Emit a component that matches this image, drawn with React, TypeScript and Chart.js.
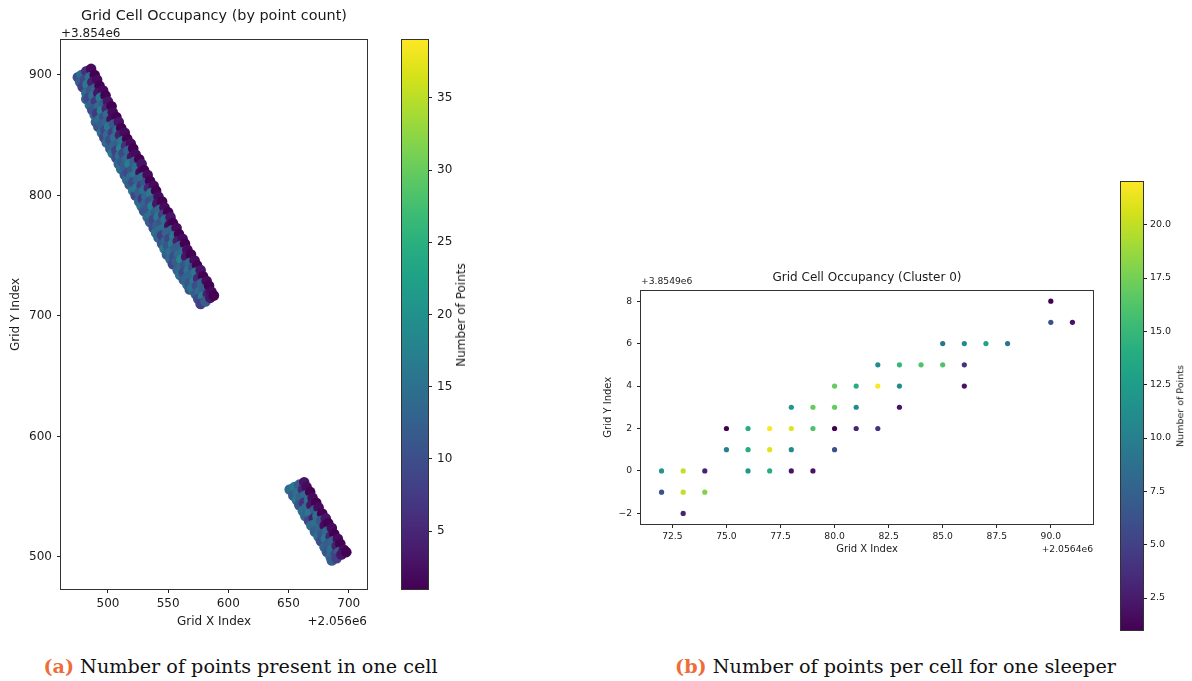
import React, { useEffect, useRef } from 'react';
import { Chart, registerables } from 'chart.js';

Chart.register(...registerables);

// ---------- Panel (a): grid cell occupancy by point count ----------
// values shown relative to the axis offsets (+2.056e6 on x, +3.854e6 on y)
const upperRowsX = [
  [475, 478, 482, 486], [477, 481, 485, 489], [479, 483, 487, 491], [482, 486, 490, 493],
  [484, 488, 492, 496], [487, 490, 494, 498], [489, 493, 497, 500], [491, 495, 499, 503],
  [493, 497, 500, 504], [495, 499, 503, 507], [498, 501, 505, 509], [500, 504, 508, 511],
  [502, 506, 510, 514], [505, 509, 512, 516], [507, 511, 515, 519], [510, 513, 517, 521],
  [512, 516, 520, 523], [514, 518, 522, 526], [517, 520, 524, 528], [519, 523, 527, 530],
  [521, 525, 529, 533], [524, 528, 531, 535], [526, 530, 534, 538], [529, 532, 536, 540],
  [531, 535, 539, 542], [533, 537, 541, 545], [536, 540, 543, 547], [538, 542, 546, 550],
  [541, 544, 548, 552], [543, 547, 551, 554], [545, 549, 553, 557], [548, 551, 555, 559],
  [550, 554, 558, 562], [552, 556, 560, 564], [555, 559, 563, 566], [557, 561, 565, 569],
  [561, 564, 568, 572], [563, 567, 571, 574], [565, 569, 573, 577], [568, 572, 575, 579],
  [570, 574, 578, 582], [573, 576, 580, 584], [575, 579, 583, 586], [577, 581, 585, 588],
];
const upperRowsY = [
  [898, 900, 903, 905], [894, 896, 898, 900], [890, 892, 894, 896], [885, 887, 889, 891],
  [881, 883, 885, 887], [876, 878, 881, 883], [872, 874, 876, 878], [868, 870, 872, 874],
  [863, 865, 867, 869], [859, 861, 863, 865], [854, 857, 859, 861], [850, 852, 854, 856],
  [846, 848, 850, 852], [841, 843, 845, 847], [837, 839, 841, 843], [833, 835, 837, 839],
  [828, 830, 832, 834], [824, 826, 828, 830], [819, 821, 823, 826], [815, 817, 819, 821],
  [811, 813, 815, 817], [806, 808, 810, 812], [802, 804, 806, 808], [797, 799, 802, 804],
  [793, 795, 797, 799], [789, 791, 793, 795], [784, 786, 788, 790], [780, 782, 784, 786],
  [775, 777, 780, 782], [771, 773, 775, 777], [767, 769, 771, 773], [762, 764, 766, 768],
  [758, 760, 762, 764], [753, 756, 758, 760], [749, 751, 753, 755], [745, 747, 749, 751],
  [740, 742, 744, 746], [736, 738, 740, 742], [731, 734, 736, 738], [727, 729, 731, 733],
  [723, 725, 727, 729], [718, 720, 722, 725], [714, 716, 718, 720], [710, 712, 715, 717],
];
const upperRowsCount = [
  [10, 14, 6, 2], [12, 9, 15, 1], [8, 16, 4, 2], [14, 11, 13, 1],
  [9, 15, 3, 2], [13, 7, 16, 1], [11, 14, 12, 3], [7, 17, 5, 1],
  [15, 10, 14, 2], [12, 13, 2, 1], [9, 16, 11, 3], [14, 8, 15, 1],
  [10, 15, 4, 2], [13, 12, 16, 1], [8, 18, 6, 2], [15, 9, 13, 1],
  [11, 14, 3, 2], [12, 17, 12, 1], [9, 11, 15, 3], [14, 16, 2, 1],
  [10, 13, 14, 2], [16, 8, 11, 1], [12, 15, 5, 2], [7, 14, 16, 1],
  [13, 10, 12, 2], [11, 17, 3, 1], [15, 12, 14, 2], [9, 16, 8, 1],
  [12, 11, 15, 3], [14, 15, 2, 1], [8, 13, 13, 2], [13, 9, 16, 1],
  [11, 16, 4, 2], [15, 12, 12, 1], [10, 14, 15, 2], [12, 18, 3, 1],
  [14, 11, 14, 2], [9, 15, 10, 1], [13, 13, 16, 3], [11, 16, 5, 1],
  [15, 10, 13, 2], [12, 14, 12, 1], [10, 17, 4, 2], [8, 12, 3, 1],
];
// cells along the lower-left edge of the long strip
const upperEdgeX = [482, 485, 487, 489, 490, 492, 495, 497, 499, 502, 504, 507, 509, 511, 514, 516, 518, 521, 523, 526, 528, 530, 533, 535, 538, 540, 542, 545, 547, 549, 552, 554, 558, 560, 563, 566, 568];
const upperEdgeY = [880, 875, 871, 867, 861, 857, 852, 848, 844, 839, 835, 831, 826, 822, 817, 813, 809, 804, 800, 795, 791, 787, 782, 778, 773, 769, 765, 760, 756, 751, 747, 743, 738, 734, 730, 726, 722];
const upperEdgeCount = [12, 14, 10, 13, 13, 11, 15, 9, 14, 12, 16, 10, 13, 15, 11, 14, 12, 16, 9, 13, 15, 11, 14, 12, 10, 15, 13, 11, 16, 12, 14, 9, 13, 15, 12, 14, 11];
const upperHotX = [535, 541, 559, 584];
const upperHotY = [793, 777, 739, 713];
const upperHotCount = [38, 35, 33, 36];

const lowerRowsX = [
  [651, 655, 659, 663], [654, 658, 662, 665], [657, 660, 664, 668], [659, 663, 667, 670],
  [662, 665, 669, 673], [664, 668, 672, 675], [667, 671, 674, 678], [669, 673, 677, 681],
  [672, 676, 680, 683], [675, 678, 682, 686], [677, 681, 685, 688], [680, 683, 687, 691],
  [682, 686, 690, 693], [685, 689, 692, 696], [686, 690, 694, 698],
];
const lowerRowsY = [
  [556, 558, 560, 562], [551, 553, 556, 558], [547, 549, 551, 554], [543, 545, 547, 549],
  [538, 541, 543, 545], [534, 536, 539, 541], [530, 532, 534, 536], [526, 528, 530, 532],
  [521, 523, 526, 528], [517, 519, 521, 524], [513, 515, 517, 519], [508, 511, 513, 515],
  [504, 506, 509, 511], [500, 502, 504, 506], [497, 499, 502, 504],
];
const lowerRowsCount = [
  [14, 16, 12, 3], [12, 15, 5, 2], [16, 13, 14, 1], [11, 6, 15, 2],
  [15, 14, 3, 1], [13, 16, 12, 2], [9, 4, 15, 1], [14, 15, 11, 3],
  [12, 13, 2, 1], [15, 11, 14, 2], [10, 16, 5, 1], [13, 12, 13, 2],
  [11, 15, 4, 1], [14, 9, 12, 2], [12, 8, 3, 1],
];
const lowerHotX = [665, 684, 686, 680, 671];
const lowerHotY = [539, 528, 515, 507, 522];
const lowerHotCount = [36, 32, 38, 34, 30];

const aXTicks = [500, 550, 600, 650, 700];
const aYTicks = [500, 600, 700, 800, 900];
const aXRange = [461, 715.2];
const aYRange = [473.4, 929];
const aColorRange = [1, 39];
const aColorTicks = [5, 10, 15, 20, 25, 30, 35];

// ---------- Panel (b): one sleeper (cluster 0) ----------
const clusterX = [72, 72, 73, 73, 73, 74, 74, 75, 75, 76, 76, 76, 77, 77, 77, 78, 78, 78, 78, 79, 79, 79, 80, 80, 80, 80, 81, 81, 81, 82, 82, 82, 83, 83, 83, 84, 85, 85, 86, 86, 86, 87, 88, 90, 90, 91];
const clusterY = [0, -1, 0, -1, -2, 0, -1, 2, 1, 2, 1, 0, 2, 1, 0, 3, 2, 1, 0, 3, 2, 0, 4, 3, 2, 1, 4, 3, 2, 5, 4, 2, 5, 4, 3, 5, 6, 5, 6, 5, 4, 6, 6, 8, 7, 7];
const clusterCount = [12, 6, 20, 20, 3, 3, 18, 1, 10, 14, 14, 12, 22, 21, 14, 12, 21, 11, 2, 17, 16, 2, 17, 17, 1, 6, 14, 11, 3, 11, 22, 4, 15, 11, 2, 16, 9, 16, 11, 4, 2, 13, 9, 1, 6, 2];

const bXTicks = [72.5, 75, 77.5, 80, 82.5, 85, 87.5, 90];
const bYTicks = [-2, 0, 2, 4, 6, 8];
const bXRange = [71.05, 91.95];
const bYRange = [-2.5, 8.5];
const bColorRange = [1, 22];
const bColorTicks = [2.5, 5, 7.5, 10, 12.5, 15, 17.5, 20];

// ---------- styling helpers ----------
const VIRIDIS = [
  '#440154', '#48186a', '#472d7b', '#424086', '#3b528b', '#33638d', '#2c728e', '#26828e',
  '#21918c', '#1fa088', '#28ae80', '#3fbc73', '#5ec962', '#84d44b', '#addc30', '#d8e219', '#fde725',
];
const hexToRgb = (h: string) => [1, 3, 5].map((i) => parseInt(h.slice(i, i + 2), 16));
function viridis(t: number): string {
  const c = Math.max(0, Math.min(1, t)) * (VIRIDIS.length - 1);
  const i = Math.min(Math.floor(c), VIRIDIS.length - 2);
  const f = c - i;
  const a = hexToRgb(VIRIDIS[i]);
  const b = hexToRgb(VIRIDIS[i + 1]);
  const m = a.map((v, k) => Math.round(v + (b[k] - v) * f));
  return `rgb(${m[0]},${m[1]},${m[2]})`;
}
const colorFor = (v: number, range: number[]) => viridis((v - range[0]) / (range[1] - range[0]));

const FONT = 'DejaVu Sans';
const TXT = '#1a1a1a';
const TICKC = '#222';

const framePlugin = {
  id: 'frame',
  afterDraw(chart: any) {
    const { ctx, chartArea: a } = chart;
    ctx.save();
    ctx.strokeStyle = '#333';
    ctx.lineWidth = 1;
    ctx.strokeRect(Math.round(a.left) - 0.5, Math.round(a.top) - 0.5, Math.round(a.right - a.left) + 1, Math.round(a.bottom - a.top) + 1);
    ctx.restore();
  },
};

function axis(o: any) {
  return {
    type: 'linear',
    position: o.position,
    min: o.range[0],
    max: o.range[1],
    afterBuildTicks: (s: any) => {
      s.ticks = o.ticks.map((v: number) => ({ value: v }));
    },
    afterFit: (s: any) => {
      if (o.width !== undefined) s.width = o.width;
      if (o.height !== undefined) s.height = o.height;
    },
    ticks: {
      autoSkip: false,
      maxRotation: 0,
      minRotation: 0,
      padding: o.pad,
      color: TXT,
      font: { family: FONT, size: o.tickSize },
      callback: o.fmt,
    },
    grid: { display: true, drawOnChartArea: false, drawTicks: true, tickLength: 4, tickColor: TICKC, tickWidth: 1 },
    border: { display: false },
    title: o.title
      ? { display: true, text: o.title, color: TXT, font: { family: FONT, size: o.titleSize }, padding: o.titlePad }
      : { display: false },
  };
}

function flat(rows: number[][]) {
  return rows.reduce((acc: number[], r) => acc.concat(r), []);
}

const minusFmt = (v: number) => (v < 0 ? '\u2212' + Math.abs(v) : String(v));

function colorbarConfig(range: number[], ticks: number[], pad: any, width: number, tickSize: number, fmt: (v: number) => string) {
  return {
    type: 'bar',
    data: {
      labels: [''],
      datasets: [
        {
          data: [[range[0], range[1]]],
          barPercentage: 1,
          categoryPercentage: 1,
          borderWidth: 0,
          backgroundColor: (ctx: any) => {
            const a = ctx.chart.chartArea;
            if (!a) return VIRIDIS[8];
            const g = ctx.chart.ctx.createLinearGradient(0, a.bottom, 0, a.top);
            VIRIDIS.forEach((c, i) => g.addColorStop(i / (VIRIDIS.length - 1), c));
            return g;
          },
        },
      ],
    },
    options: {
      responsive: false,
      animation: false,
      devicePixelRatio: 1,
      layout: { padding: pad, autoPadding: false },
      plugins: { legend: { display: false }, tooltip: { enabled: false } },
      scales: {
        x: { display: false },
        y: axis({ position: 'right', range, ticks, width, pad: pad.tickPad, tickSize, fmt }),
      },
    },
    plugins: [framePlugin],
  };
}

const textStyle = (x: number, y: number, size: number, anchor: string, rotate = false): React.CSSProperties => {
  const tx = anchor === 'left' ? '0' : anchor === 'right' ? '-100%' : '-50%';
  return {
    position: 'absolute',
    left: x,
    top: y,
    transform: `translate(${tx}, -50%)` + (rotate ? ' rotate(-90deg)' : ''),
    fontFamily: FONT,
    fontSize: size,
    lineHeight: 1,
    whiteSpace: 'nowrap',
    color: TXT,
  };
};

export default function App() {
  const aRef = useRef<HTMLCanvasElement>(null);
  const aCbRef = useRef<HTMLCanvasElement>(null);
  const bRef = useRef<HTMLCanvasElement>(null);
  const bCbRef = useRef<HTMLCanvasElement>(null);

  useEffect(() => {
    const charts: Chart[] = [];

    const ux = upperEdgeX.concat(flat(upperRowsX));
    const uy = upperEdgeY.concat(flat(upperRowsY));
    const uc = upperEdgeCount.concat(flat(upperRowsCount));
    const lx = flat(lowerRowsX), ly = flat(lowerRowsY), lc = flat(lowerRowsCount);
    const mainX = ux.concat(lx), mainY = uy.concat(ly), mainC = uc.concat(lc);
    const hotX = upperHotX.concat(lowerHotX), hotY = upperHotY.concat(lowerHotY), hotC = upperHotCount.concat(lowerHotCount);

    const mainCols = mainC.map((v) => colorFor(v, aColorRange));
    const hotCols = hotC.map((v) => colorFor(v, aColorRange));

    charts.push(
      new Chart(aRef.current!, {
        type: 'scatter',
        data: {
          datasets: [
            {
              data: mainX.map((x, i) => ({ x, y: mainY[i] })),
              pointRadius: 5.3,
              pointHoverRadius: 5.3,
              pointBorderWidth: 0,
              pointBackgroundColor: mainCols,
              pointBorderColor: mainCols,
            },
            {
              data: hotX.map((x, i) => ({ x, y: hotY[i] })),
              pointRadius: 1.6,
              pointHoverRadius: 1.6,
              pointBorderWidth: 0,
              pointBackgroundColor: hotCols,
              pointBorderColor: hotCols,
            },
          ],
        },
        options: {
          responsive: false,
          animation: false,
          devicePixelRatio: 1,
          layout: { padding: { left: 0, top: 40, right: 13, bottom: 0 }, autoPadding: false },
          plugins: { legend: { display: false }, tooltip: { enabled: false } },
          scales: {
            x: axis({ position: 'bottom', range: aXRange, ticks: aXTicks, height: 51, pad: 4, tickSize: 12, fmt: (v: number) => String(v), title: 'Grid X Index', titleSize: 12, titlePad: { top: 0, bottom: 11 } }),
            y: axis({ position: 'left', range: aYRange, ticks: aYTicks, width: 61, pad: 5, tickSize: 12, fmt: (v: number) => String(v), title: 'Grid Y Index', titleSize: 12, titlePad: { top: 9, bottom: 0 } }),
          },
        } as any,
        plugins: [framePlugin],
      })
    );

    charts.push(
      new Chart(
        aCbRef.current!,
        colorbarConfig(aColorRange, aColorTicks, { left: 22, top: 40, bottom: 51, right: 0, tickPad: 5 }, 52, 12, (v: number) => String(v)) as any
      )
    );

    const bCols = clusterCount.map((v) => colorFor(v, bColorRange));
    charts.push(
      new Chart(bRef.current!, {
        type: 'scatter',
        data: {
          datasets: [
            {
              data: clusterX.map((x, i) => ({ x, y: clusterY[i] })),
              pointRadius: 2.6,
              pointHoverRadius: 2.6,
              pointBorderWidth: 0,
              pointBackgroundColor: bCols,
              pointBorderColor: bCols,
            },
          ],
        },
        options: {
          responsive: false,
          animation: false,
          devicePixelRatio: 1,
          layout: { padding: { left: 0, top: 7, right: 7, bottom: 0 }, autoPadding: false },
          plugins: { legend: { display: false }, tooltip: { enabled: false } },
          scales: {
            x: axis({ position: 'bottom', range: bXRange, ticks: bXTicks, height: 46, pad: 3, tickSize: 9.2, fmt: (v: number) => v.toFixed(1), title: 'Grid X Index', titleSize: 10, titlePad: { top: 0, bottom: 14.5 } }),
            y: axis({ position: 'left', range: bYRange, ticks: bYTicks, width: 51, pad: 5, tickSize: 9.2, fmt: minusFmt, title: 'Grid Y Index', titleSize: 10, titlePad: { top: 12, bottom: 0 } }),
          },
        } as any,
        plugins: [framePlugin],
      })
    );

    charts.push(
      new Chart(
        bCbRef.current!,
        colorbarConfig(bColorRange, bColorTicks, { left: 21, top: 12, bottom: 10, right: 0, tickPad: 3 }, 49, 9.5, (v: number) => v.toFixed(1)) as any
      )
    );

    return () => charts.forEach((c) => c.destroy());
  }, []);

  const capStyle = (x: number): React.CSSProperties => ({
    position: 'absolute',
    left: x,
    top: 657,
    transform: 'translateX(-50%)',
    fontFamily: '"DejaVu Serif", serif',
    fontSize: 19.2,
    lineHeight: 1,
    whiteSpace: 'nowrap',
    color: '#111',
  });
  const lab: React.CSSProperties = { color: '#ee6c3a', fontWeight: 'bold' };

  return (
    <div style={{ position: 'absolute', left: 0, top: 0, width: 1192, height: 681, background: '#fff', overflow: 'hidden' }}>
      <canvas ref={aRef} width={380} height={640} style={{ position: 'absolute', left: 0, top: 0 }} />
      <canvas ref={aCbRef} width={100} height={640} style={{ position: 'absolute', left: 380, top: 0 }} />
      <canvas ref={bRef} width={510} height={290} style={{ position: 'absolute', left: 590, top: 280 }} />
      <canvas ref={bCbRef} width={92} height={470} style={{ position: 'absolute', left: 1100, top: 170 }} />

      <div style={textStyle(214, 15, 14.4, 'center')}>Grid Cell Occupancy (by point count)</div>
      <div style={textStyle(61, 32.5, 12, 'left')}>+3.854e6</div>
      <div style={textStyle(367, 621, 12, 'right')}>+2.056e6</div>
      <div style={textStyle(461, 314.5, 12, 'center', true)}>Number of Points</div>

      <div style={textStyle(867, 276.7, 12, 'center')}>Grid Cell Occupancy (Cluster 0)</div>
      <div style={textStyle(641, 280.5, 9.2, 'left')}>+3.8549e6</div>
      <div style={textStyle(1093, 549, 9.2, 'right')}>+2.0564e6</div>
      <div style={textStyle(1180, 406, 9.5, 'center', true)}>Number of Points</div>

      <div style={capStyle(240.5)}>
        <span style={lab}>(a)</span> Number of points present in one cell
      </div>
      <div style={capStyle(895.5)}>
        <span style={lab}>(b)</span> Number of points per cell for one sleeper
      </div>
    </div>
  );
}
